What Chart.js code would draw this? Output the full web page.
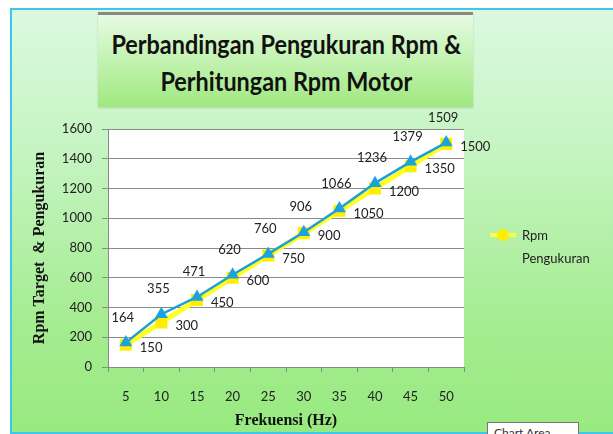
<!DOCTYPE html>
<html>
<head>
<meta charset="utf-8">
<script src="https://cdn.jsdelivr.net/npm/chart.js@4"></script>
<style>
  html, body { margin: 0; padding: 0; background: #fff; }
  #wrap { position: relative; width: 613px; height: 434px; overflow: hidden; }
  #frame {
    position: absolute; left: 10px; top: 8px; width: 620px; height: 422px;
    border: 2px solid #3cc8e8;
    background: linear-gradient(to bottom, #dcf9e0 0%, #c4f4c0 35%, #a4ec90 75%, #98ea80 100%);
  }
  #titleBox {
    position: absolute; left: 98px; top: 12px; width: 375px; height: 95px;
    background: linear-gradient(to bottom, #e6fbe2 0%, #c2f2b0 50%, #a0e880 100%);
    border-top: 3px solid #8a8a80;
    box-shadow: 0 1px 2px rgba(0,0,0,0.15);
    text-align: center; white-space: nowrap;
    font-family: Lato, sans-serif; font-weight: bold; font-size: 26px;
    line-height: 37px; color: #111; padding-top: 11px; box-sizing: border-box;
  }
  #titleBox span { display: inline-block; transform: translateX(-6px) scaleX(0.9); }
  #legend {
    position: absolute; left: 490px; top: 224px; width: 110px;
    font-family: Lato, sans-serif; font-size: 13px; color: #222;
  }
  #legend .mark { position: absolute; left: 0; top: 9px; width: 26px; height: 4px; background: #ffff40; }
  #legend .dot { position: absolute; left: 7px; top: 5px; width: 12px; height: 12px; border-radius: 6px; background: #ffee00; }
  #legend .txt { position: absolute; left: 32px; top: 0; line-height: 23px; }
  #tip {
    position: absolute; left: 487px; top: 422px; width: 92px; height: 20px;
    background: #fff; border: 1px solid #777; box-sizing: border-box;
    font-family: Lato, sans-serif; font-size: 12px; padding: 2px 0 0 6px; color: #333;
  }
  canvas { position: absolute; left: 0; top: 0; }
</style>
</head>
<body>
<div id="wrap">
  <div id="frame"></div>
  <div id="titleBox"><span>Perbandingan Pengukuran Rpm &amp;<br>Perhitungan Rpm Motor</span></div>
  <canvas id="chart" width="613" height="434"></canvas>
  <div id="legend"><div class="mark"></div><div class="dot"></div><div class="txt">Rpm<br>Pengukuran</div></div>
  <div id="tip">Chart Area</div>
</div>
<script>
const frekuensi = ['5', '10', '15', '20', '25', '30', '35', '40', '45', '50'];
const rpmPengukuran = [164, 355, 471, 620, 760, 906, 1066, 1236, 1379, 1509];
const rpmTarget = [150, 300, 450, 600, 750, 900, 1050, 1200, 1350, 1500];
const yTicks = [0, 200, 400, 600, 800, 1000, 1200, 1400, 1600];

const labelFont = '13px Lato, sans-serif';

// draw the value labels next to the points
const valueLabels = {
    id: 'valueLabels',
    afterDatasetsDraw(chart) {
        const ctx = chart.ctx;
        ctx.save();
        ctx.font = labelFont;
        ctx.fillStyle = '#222';
        ctx.textBaseline = 'middle';
        chart.data.datasets.forEach((ds, i) => {
            const meta = chart.getDatasetMeta(i);
            meta.data.forEach((pt, j) => {
                const v = ds.data[j];
                if (ds.labelPos === 'above') {
                    ctx.textAlign = 'center';
                    ctx.fillText(v, pt.x - 3, pt.y - 25);
                } else {
                    ctx.textAlign = 'left';
                    ctx.fillText(v, pt.x + 14, pt.y + 3);
                }
            });
        });
        ctx.restore();
    }
};

new Chart(document.getElementById('chart'), {
    type: 'line',
    data: {
        labels: frekuensi,
        datasets: [
            {
                label: 'Rpm Pengukuran',
                data: rpmPengukuran,
                borderColor: '#1e9fd8',
                backgroundColor: '#1ba3e0',
                borderWidth: 2.5,
                pointStyle: 'triangle',
                pointRadius: 7.5,
                pointBorderWidth: 0,
                labelPos: 'above'
            },
            {
                label: 'Rpm Target',
                data: rpmTarget,
                borderColor: '#ffff20',
                backgroundColor: '#ffee00',
                borderWidth: 5,
                pointStyle: 'rect',
                pointRadius: 8.5,
                pointBorderWidth: 0,
                labelPos: 'right'
            }
        ]
    },
    options: {
        responsive: false,
        animation: false,
        layout: { padding: { left: 0, right: 149, top: 129, bottom: 0 } },
        plugins: {
            legend: { display: false },
            tooltip: { enabled: false }
        },
        scales: {
            x: {
                offset: true,
                grid: { display: true, drawOnChartArea: false, offset: true, color: '#888', tickLength: 5 },
                border: { color: '#888' },
                ticks: { color: '#222', font: { family: 'Lato', size: 13 }, padding: 17 },
                title: {
                    display: true, text: 'Frekuensi (Hz)', color: '#111',
                    font: { family: 'Liberation Serif', size: 16, weight: 'bold' },
                    padding: { top: 0, bottom: 4 }
                },
                afterFit(scale) { scale.height = 67; }
            },
            y: {
                min: 0, max: 1600,
                afterBuildTicks(scale) { scale.ticks = yTicks.map(v => ({ value: v })); },
                grid: { color: '#8a8a8a', tickLength: 6, drawTicks: true },
                border: { color: '#888' },
                ticks: {
                    color: '#222', font: { family: 'Lato', size: 13 }, padding: 10,
                    callback: v => String(v)
                },
                title: {
                    display: true, text: 'Rpm Target  & Pengukuran', color: '#111',
                    font: { family: 'Liberation Serif', size: 16, weight: 'bold' },
                    padding: { top: 30, bottom: 0 }
                },
                afterFit(scale) { scale.width = 108; }
            }
        }
    },
    plugins: [
        {
            id: 'plotBg',
            beforeDraw(chart) {
                const a = chart.chartArea;
                chart.ctx.save();
                chart.ctx.fillStyle = '#fff';
                chart.ctx.fillRect(a.left, a.top, a.right - a.left, a.bottom - a.top);
                chart.ctx.restore();
            }
        },
        valueLabels
    ]
});
</script>
</body>
</html>
